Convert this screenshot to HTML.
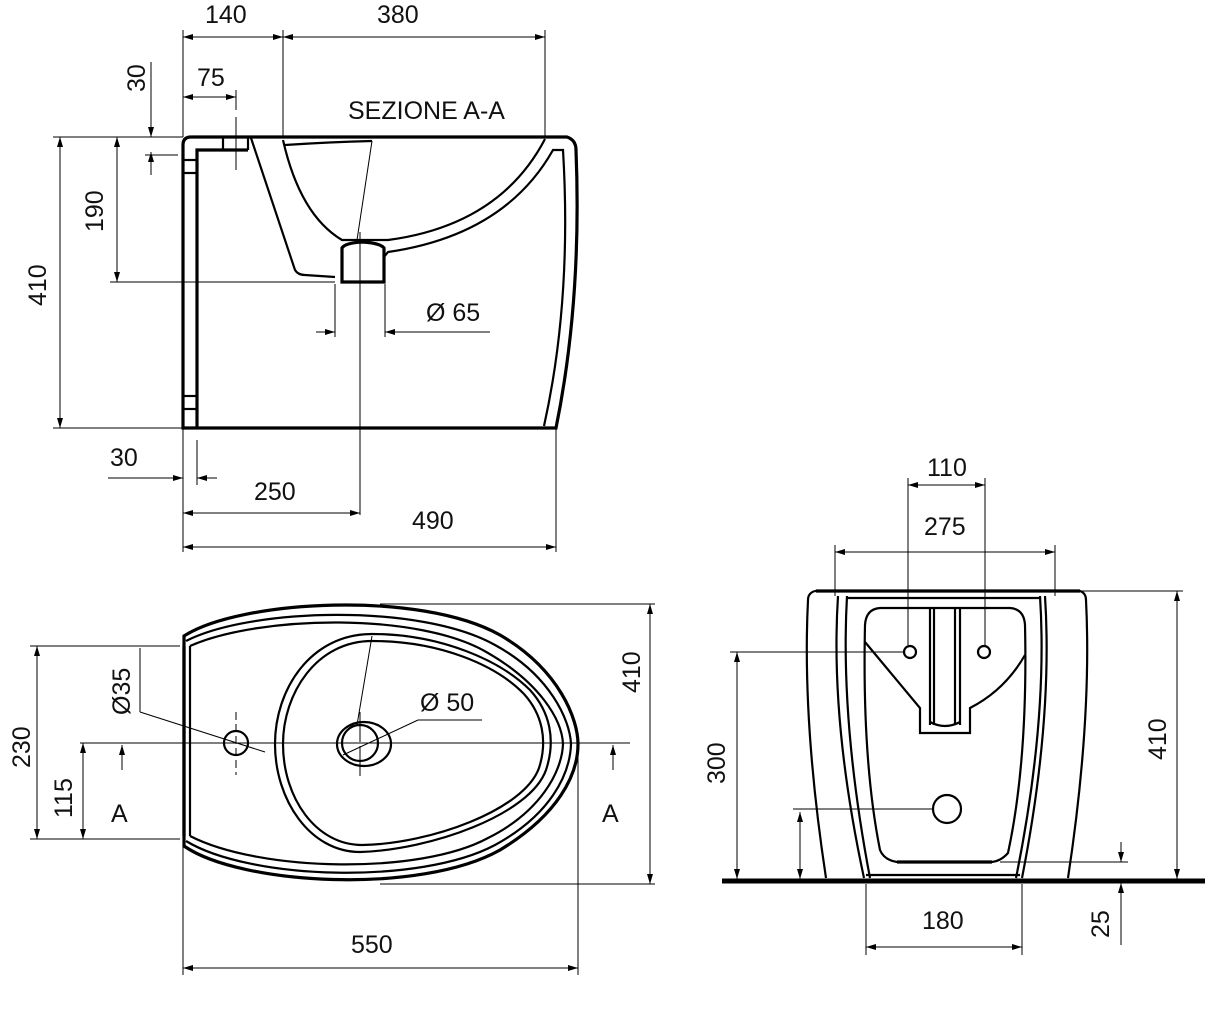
<!DOCTYPE html>
<html><head><meta charset="utf-8"><style>
html,body{margin:0;padding:0;background:#fff;width:1214px;height:1030px;overflow:hidden}
svg{display:block}
text{font-family:"Liberation Sans",Arial,sans-serif;font-size:25px;fill:#111}
.t{stroke:#000;stroke-width:1;fill:none}
.m{stroke:#000;stroke-width:2.2;fill:none}
.k{stroke:#000;stroke-width:3.2;fill:none}
</style></head><body>
<svg width="1214" height="1030" viewBox="0 0 1214 1030" xmlns="http://www.w3.org/2000/svg">
<defs>
<marker id="a" viewBox="0 0 10 6" refX="10" refY="3" markerWidth="10" markerHeight="6" orient="auto-start-reverse" markerUnits="userSpaceOnUse"><path d="M0,0L10,3L0,6Z" fill="#000"/></marker>
</defs>

<!-- ===== SIDE SECTION ===== -->
<text x="348" y="119">SEZIONE A-A</text>
<line class="t" x1="183" y1="30" x2="183" y2="137"/>
<line class="t" x1="283" y1="30" x2="283" y2="137"/>
<line class="t" x1="545" y1="30" x2="545" y2="137"/>
<line class="t" x1="183" y1="37" x2="283" y2="37" marker-start="url(#a)" marker-end="url(#a)"/>
<line class="t" x1="283" y1="37" x2="545" y2="37" marker-start="url(#a)" marker-end="url(#a)"/>
<text x="205" y="23">140</text><text x="377" y="23">380</text>
<line class="t" x1="183" y1="97" x2="236" y2="97" marker-start="url(#a)" marker-end="url(#a)"/>
<line class="t" x1="236" y1="90" x2="236" y2="110"/>
<line class="t" x1="236" y1="117" x2="236" y2="170"/>
<text x="197" y="86">75</text>
<text transform="translate(145,92) rotate(-90)">30</text>
<line class="t" x1="151" y1="62" x2="151" y2="137" marker-end="url(#a)"/>
<line class="t" x1="151" y1="175" x2="151" y2="152" marker-end="url(#a)"/>
<line class="t" x1="145" y1="155" x2="178" y2="155"/>
<line class="t" x1="53" y1="137" x2="183" y2="137"/>
<line class="t" x1="53" y1="428" x2="183" y2="428"/>
<line class="t" x1="60" y1="137" x2="60" y2="428" marker-start="url(#a)" marker-end="url(#a)"/>
<text transform="translate(46,306) rotate(-90)">410</text>
<line class="t" x1="117" y1="137" x2="117" y2="282" marker-start="url(#a)" marker-end="url(#a)"/>
<line class="t" x1="110" y1="282" x2="335" y2="282"/>
<text transform="translate(103,232) rotate(-90)">190</text>
<path class="k" d="M183,428 L183,145 Q183,137 191,137 L567,137 Q576,140 576,150 Q582,300 556,428 Z"/>
<path class="k" d="M197,428 L197,150 L248,150"/>
<line class="m" x1="183" y1="160" x2="197" y2="160"/>
<line class="m" x1="183" y1="173" x2="197" y2="173"/>
<line class="m" x1="183" y1="396" x2="197" y2="396"/>
<line class="m" x1="183" y1="409" x2="197" y2="409"/>
<line class="m" x1="223" y1="137" x2="223" y2="150"/>
<line class="m" x1="248" y1="137" x2="248" y2="150"/>
<path class="m" d="M251,138 L295,270 Q298,275 305,275 L335,277"/>
<path class="m" d="M283,140 Q300,215 342,240 L388,240 Q500,225 545,139"/>
<path class="m" d="M384,257 L388,252 Q505,235 553,150 L563,150 Q572,300 544,426"/>
<path class="k" d="M342,282 L342,248 Q345,243 362,242 Q380,243 384,248 L384,282 Z"/>
<line class="t" x1="372" y1="141" x2="357" y2="240"/>
<path class="m" d="M285,145 Q330,142 372,141"/>
<line class="t" x1="360" y1="232" x2="360" y2="515"/>
<line class="t" x1="335" y1="284" x2="335" y2="337"/>
<line class="t" x1="385" y1="284" x2="385" y2="337"/>
<line class="t" x1="316" y1="332" x2="335" y2="332" marker-end="url(#a)"/>
<line class="t" x1="490" y1="332" x2="385" y2="332" marker-end="url(#a)"/>
<text x="426" y="321">Ø 65</text>
<line class="t" x1="183" y1="428" x2="183" y2="552"/>
<line class="t" x1="197" y1="440" x2="197" y2="485"/>
<line class="t" x1="556" y1="428" x2="556" y2="552"/>
<line class="t" x1="108" y1="478" x2="183" y2="478" marker-end="url(#a)"/>
<line class="t" x1="217" y1="478" x2="197" y2="478" marker-end="url(#a)"/>
<text x="110" y="466">30</text>
<line class="t" x1="183" y1="513" x2="360" y2="513" marker-start="url(#a)" marker-end="url(#a)"/>
<text x="254" y="500">250</text>
<line class="t" x1="183" y1="547" x2="556" y2="547" marker-start="url(#a)" marker-end="url(#a)"/>
<text x="412" y="529">490</text>

<!-- ===== TOP VIEW ===== -->
<path class="k" d="M184,636 C240,600 420,590 500,635 C560,670 578,720 578,744 C578,775 558,815 500,850 C420,895 240,885 184,846 Z"/>
<path class="m" d="M186,641 C250,608 420,603 495,645 C550,675 570,720 571,744 C570,775 550,815 495,845 C420,885 250,880 186,841"/>
<path class="m" d="M190,646 C260,615 420,612 488,653 C540,683 562,720 563,744 C562,772 540,812 488,838 C420,875 260,872 190,836"/>
<line class="k" x1="184" y1="646" x2="184" y2="836"/>
<line class="m" x1="190" y1="646" x2="190" y2="836"/>
<path class="m" d="M372,634 C440,634 500,660 530,690 C550,712 556,740 546,770 C530,815 430,850 360,852 C310,852 275,800 275,744 C275,690 310,634 372,634 Z"/>
<path class="m" d="M372,641 C440,641 496,665 524,694 C542,714 548,740 539,768 C524,810 430,844 362,845 C316,845 283,798 283,744 C283,694 316,641 372,641 Z"/>
<line class="t" x1="372" y1="636" x2="357" y2="725"/>
<ellipse class="m" cx="364" cy="744" rx="27" ry="22"/>
<circle class="m" cx="360" cy="743" r="18"/>
<circle class="m" cx="236" cy="743" r="12"/>
<line class="t" x1="236" y1="712" x2="236" y2="775" stroke-dasharray="8,4"/>
<line class="t" x1="360" y1="712" x2="360" y2="780" stroke-dasharray="30,4"/>
<line class="t" x1="80" y1="743" x2="630" y2="743"/>
<line class="t" x1="140" y1="712" x2="265" y2="752"/>
<line class="t" x1="140" y1="648" x2="140" y2="712"/>
<text transform="translate(130,715) rotate(-90)">Ø35</text>
<line class="t" x1="343" y1="755" x2="418" y2="720"/>
<line class="t" x1="418" y1="720" x2="482" y2="720"/>
<text x="420" y="711">Ø 50</text>
<line class="t" x1="30" y1="646" x2="180" y2="646"/>
<line class="t" x1="30" y1="839" x2="180" y2="839"/>
<line class="t" x1="37" y1="646" x2="37" y2="839" marker-start="url(#a)" marker-end="url(#a)"/>
<text transform="translate(30,768) rotate(-90)">230</text>
<line class="t" x1="83" y1="743" x2="83" y2="839" marker-start="url(#a)" marker-end="url(#a)"/>
<text transform="translate(72,818) rotate(-90)">115</text>
<line class="t" x1="122" y1="770" x2="122" y2="745" marker-end="url(#a)"/>
<text x="111" y="822">A</text>
<line class="t" x1="613" y1="770" x2="613" y2="745" marker-end="url(#a)"/>
<text x="602" y="822">A</text>
<line class="t" x1="380" y1="604" x2="655" y2="604"/>
<line class="t" x1="380" y1="884" x2="655" y2="884"/>
<line class="t" x1="650" y1="604" x2="650" y2="884" marker-start="url(#a)" marker-end="url(#a)"/>
<text transform="translate(640,693) rotate(-90)">410</text>
<line class="t" x1="183" y1="846" x2="183" y2="975"/>
<line class="t" x1="578" y1="744" x2="578" y2="975"/>
<line class="t" x1="183" y1="968" x2="578" y2="968" marker-start="url(#a)" marker-end="url(#a)"/>
<text x="351" y="953">550</text>

<!-- ===== FRONT VIEW ===== -->
<line x1="722" y1="881" x2="1205" y2="881" stroke="#000" stroke-width="5"/>
<path class="m" d="M815,591 L1080,591 Q1086,593 1086,600 Q1092,720 1068,878 M815,591 Q808,593 808,600 Q802,720 826,878"/>
<line class="k" x1="816" y1="591" x2="1080" y2="591"/>
<path class="m" d="M838,596 Q830,720 864,878 M847,596 Q840,720 870,878"/>
<path class="m" d="M1045,596 Q1053,720 1022,878 M1040,596 Q1048,720 1016,878"/>
<line class="m" x1="866" y1="875" x2="1020" y2="875"/>
<line class="m" x1="847" y1="598" x2="1040" y2="598"/>
<path class="m" d="M880,608 L1010,608 Q1024,609 1025,625 Q1028,760 1008,853 Q1000,862 990,862 L897,862 Q884,860 880,850 Q862,760 865,625 Q866,609 880,608 Z"/>
<line class="k" x1="897" y1="862" x2="992" y2="862"/>
<path class="m" d="M865,642 L920,708 L920,733 L970,733 L970,708 Q1005,690 1025,655"/>
<line class="m" x1="930" y1="608" x2="930" y2="725"/>
<line class="m" x1="934" y1="608" x2="934" y2="725"/>
<line class="m" x1="955" y1="608" x2="955" y2="725"/>
<line class="m" x1="960" y1="608" x2="960" y2="725"/>
<path class="m" d="M930,722 Q945,730 960,722"/>
<circle class="m" cx="910" cy="652" r="6"/>
<circle class="m" cx="984" cy="652" r="6"/>
<circle class="m" cx="947" cy="809" r="14"/>
<line class="t" x1="908" y1="478" x2="908" y2="645"/>
<line class="t" x1="985" y1="478" x2="985" y2="645"/>
<line class="t" x1="908" y1="485" x2="985" y2="485" marker-start="url(#a)" marker-end="url(#a)"/>
<text x="927" y="476">110</text>
<line class="t" x1="835" y1="545" x2="835" y2="596"/>
<line class="t" x1="1055" y1="545" x2="1055" y2="596"/>
<line class="t" x1="835" y1="552" x2="1055" y2="552" marker-start="url(#a)" marker-end="url(#a)"/>
<text x="924" y="535">275</text>
<line class="t" x1="730" y1="652" x2="903" y2="652"/>
<line class="t" x1="737" y1="652" x2="737" y2="879" marker-start="url(#a)" marker-end="url(#a)"/>
<text transform="translate(725,784) rotate(-90)">300</text>
<line class="t" x1="793" y1="809" x2="933" y2="809"/>
<line class="t" x1="800" y1="812" x2="800" y2="879" marker-start="url(#a)" marker-end="url(#a)"/>
<line class="t" x1="1080" y1="591" x2="1183" y2="591"/>
<line class="t" x1="1177" y1="591" x2="1177" y2="879" marker-start="url(#a)" marker-end="url(#a)"/>
<text transform="translate(1166,760) rotate(-90)">410</text>
<line class="t" x1="1000" y1="862" x2="1128" y2="862"/>
<line class="t" x1="1121" y1="842" x2="1121" y2="862" marker-end="url(#a)"/>
<line class="t" x1="1121" y1="945" x2="1121" y2="883" marker-end="url(#a)"/>
<text transform="translate(1109,938) rotate(-90)">25</text>
<line class="t" x1="866" y1="884" x2="866" y2="955"/>
<line class="t" x1="1022" y1="884" x2="1022" y2="955"/>
<line class="t" x1="866" y1="947" x2="1022" y2="947" marker-start="url(#a)" marker-end="url(#a)"/>
<text x="922" y="929">180</text>
</svg>
</body></html>
